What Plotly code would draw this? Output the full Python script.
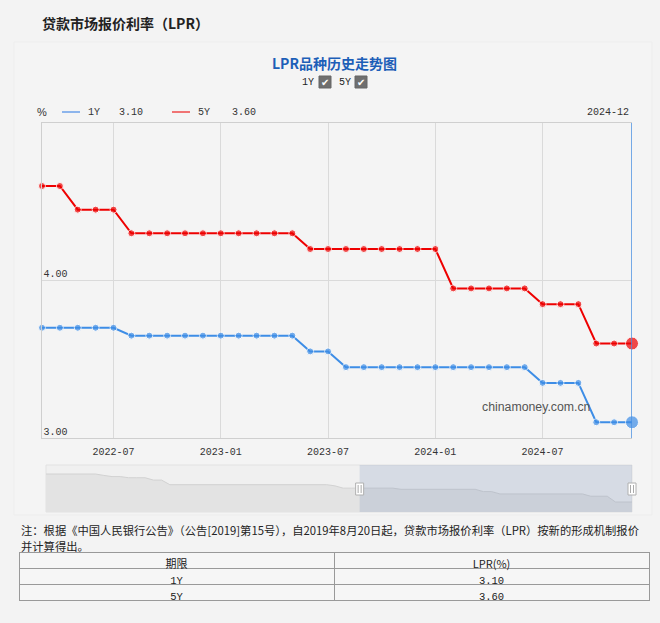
import plotly.graph_objects as go

# ---------------- data ----------------
months = [f"{y}-{m:02d}" for y in (2022, 2023, 2024) for m in range(1, 13)][2:]  # 2022-03 .. 2024-12
one_y = [3.70, 3.70, 3.70, 3.70, 3.70,
         3.65, 3.65, 3.65, 3.65, 3.65, 3.65, 3.65, 3.65, 3.65, 3.65,
         3.55, 3.55,
         3.45, 3.45, 3.45, 3.45, 3.45, 3.45, 3.45, 3.45, 3.45, 3.45, 3.45,
         3.35, 3.35, 3.35,
         3.10, 3.10, 3.10]
five_y = [4.60, 4.60,
          4.45, 4.45, 4.45,
          4.30, 4.30, 4.30, 4.30, 4.30, 4.30, 4.30, 4.30, 4.30, 4.30,
          4.20, 4.20, 4.20, 4.20, 4.20, 4.20, 4.20, 4.20,
          3.95, 3.95, 3.95, 3.95, 3.95,
          3.85, 3.85, 3.85,
          3.60, 3.60, 3.60]
x_ticks = ["2022-07", "2023-01", "2023-07", "2024-01", "2024-07"]
y_ticks = [3, 4]
y_tick_text = ["3.00", "4.00"]

# history shown in the zoom slider (1Y), 2019-01 .. 2022-02
hist_months = [f"{y}-{m:02d}" for y in (2019, 2020, 2021, 2022) for m in range(1, 13)][:38]
hist_1y = [4.31, 4.31, 4.31, 4.31, 4.31, 4.31, 4.31,
           4.25, 4.20, 4.20, 4.15, 4.15, 4.15, 4.05, 4.05,
           3.85, 3.85, 3.85, 3.85, 3.85, 3.85, 3.85, 3.85, 3.85, 3.85,
           3.85, 3.85, 3.85, 3.85, 3.85, 3.85, 3.85, 3.85, 3.85, 3.85,
           3.80, 3.70, 3.70]
full_months = hist_months + months
full_1y = hist_1y + one_y

terms = ["1Y", "5Y"]
latest = [f"{one_y[-1]:.2f}", f"{five_y[-1]:.2f}"]

# ---------------- helpers ----------------
W, H = 660, 623
def px(x): return x / W
def py(y): return 1 - y / H

MONO = "Liberation Mono"
CJK = "Noto Sans CJK SC"
BLUE = "#3d8de6"
RED = "#ee0000"

fig = go.Figure()

n = len(months)
sizes = [7] * (n - 1) + [13]
fig.add_trace(go.Scatter(x=months, y=one_y, mode="lines+markers", name="1Y",
                         line=dict(color=BLUE, width=2),
                         marker=dict(size=sizes, color=BLUE),
                         cliponaxis=False, showlegend=False, hoverinfo="skip"))
fig.add_trace(go.Scatter(x=months, y=five_y, mode="lines+markers", name="5Y",
                         line=dict(color=RED, width=2),
                         marker=dict(size=sizes, color=RED),
                         cliponaxis=False, showlegend=False, hoverinfo="skip"))

# slider shadow
fig.add_trace(go.Scatter(x=full_months, y=full_1y, mode="lines", xaxis="x2", yaxis="y2",
                         line=dict(color="#d2d2d2", width=1), fill="tozeroy",
                         fillcolor="#e3e3e3", showlegend=False, hoverinfo="skip"))

# table
fig.add_trace(go.Table(
    domain=dict(x=[px(19), px(649)], y=[py(602), py(552)]),
    columnwidth=[1, 1],
    header=dict(values=["期限", "LPR(%)"], height=16, align="center",
                fill_color="#f6f6f6", line=dict(color="#999999", width=1),
                font=dict(family=CJK, size=11, color="#222")),
    cells=dict(values=[terms, latest], height=16, align="center",
               fill_color="#f6f6f6", line=dict(color="#999999", width=1),
               font=dict(family=MONO, size=10.5, color="#222"))))

shapes = []
# faint panel
shapes.append(dict(type="rect", xref="paper", yref="paper", x0=px(14), x1=px(652),
                   y0=py(515), y1=py(42), fillcolor="#f4f4f4",
                   line=dict(color="#ededed", width=1), layer="below"))
# slider background
shapes.append(dict(type="rect", xref="paper", yref="paper", x0=px(46), x1=px(632),
                   y0=py(512), y1=py(465), fillcolor="#f0f0f0",
                   line=dict(color="#e2e2e2", width=1), layer="below"))
# selected window in slider
sel0 = full_months.index(months[0])
sel1 = len(full_months) - 1
shapes.append(dict(type="rect", xref="x2", yref="paper", x0=sel0, x1=sel1,
                   y0=py(512), y1=py(465), fillcolor="rgba(110,135,180,0.2)",
                   line=dict(width=0), layer="above"))
for a in (sel0, sel1):
    shapes.append(dict(type="rect", xref="x2", xsizemode="pixel", xanchor=a, x0=-4, x1=4,
                       yref="paper", y0=py(495), y1=py(483), fillcolor="#ffffff",
                       line=dict(color="#b0b0b0", width=1), layer="above"))
    for dx in (-1.5, 1.5):
        shapes.append(dict(type="line", xref="x2", xsizemode="pixel", xanchor=a, x0=dx, x1=dx,
                           yref="paper", y0=py(493), y1=py(485),
                           line=dict(color="#aaaaaa", width=1), layer="above"))
# axis pointer at latest month
shapes.append(dict(type="line", xref="x", x0=n - 1, x1=n - 1, yref="paper",
                   y0=py(438), y1=py(123), line=dict(color="#4a90e2", width=1.5)))
# legend lines
shapes.append(dict(type="line", xref="paper", yref="paper", x0=px(62), x1=px(80),
                   y0=py(112), y1=py(112), line=dict(color="#8db5ec", width=2)))
shapes.append(dict(type="line", xref="paper", yref="paper", x0=px(172), x1=px(190),
                   y0=py(112), y1=py(112), line=dict(color="#f07474", width=2)))
# checkboxes
for cx in (325, 361):
    shapes.append(dict(type="rect", xref="paper", yref="paper", x0=px(cx - 6), x1=px(cx + 6),
                       y0=py(88), y1=py(76), fillcolor="#6f6f6f",
                       line=dict(color="#666", width=1)))

ann = []
def text(x, y, s, size=12, color="#333", family=MONO, xanchor="left", bold=False):
    ann.append(dict(x=px(x), y=py(y), xref="paper", yref="paper", text=(f"<b>{s}</b>" if bold else s),
                    showarrow=False, xanchor=xanchor, yanchor="middle",
                    font=dict(size=size, color=color, family=family)))

text(40, 23, "贷款市场报价利率（LPR）", size=14, color="#222", family=CJK, bold=True)
text(334, 63, "LPR品种历史走势图", size=14, color="#1d5fb8", family=CJK, xanchor="center", bold=True)
text(300, 82, "1Y", size=10, color="#222")
text(337, 82, "5Y", size=10, color="#222")
for cx in (325, 361):
    text(cx, 82, "✔", size=10, color="#ffffff", family="DejaVu Sans", xanchor="center")
text(42, 112, "%", size=11, color="#333", family="Liberation Sans", xanchor="center")
text(86, 112, "1Y", size=10)
text(117, 112, f"{one_y[-1]:.2f}", size=10)
text(196, 112, "5Y", size=10)
text(230, 112, f"{five_y[-1]:.2f}", size=10)
text(631, 112, months[-1], size=10, xanchor="right")
text(480, 407, "chinamoney.com.cn", size=12.3, color="#555", family="Liberation Sans")
text(19, 530, "注：根据《中国人民银行公告》（公告[2019]第15号），自2019年8月20日起，贷款市场报价利率（LPR）按新的形成机制报价",
     size=11.3, color="#222", family=CJK)
text(19, 546, "并计算得出。", size=11.3, color="#222", family=CJK)

# slider axis: extend domain a little past the last month so the right handle is not clipped
n_full = len(full_months)
slot = (632 - 46) / (n_full - 1)
extra = 8

fig.update_layout(
    width=W, height=H, autosize=False,
    margin=dict(l=0, r=0, t=0, b=0, pad=0),
    paper_bgcolor="#f3f3f3", plot_bgcolor="#f4f4f4",
    shapes=shapes, annotations=ann, showlegend=False,
    xaxis=dict(domain=[px(42), px(632)], anchor="y", type="category",
               categoryorder="array", categoryarray=months, range=[0, n - 1],
               tickvals=x_ticks, ticks="outside", ticklen=4, tickcolor="rgba(0,0,0,0)",
               showgrid=True, gridcolor="#dadada", gridwidth=1,
               showline=True, linecolor="#cfcfcf", linewidth=1, mirror=True,
               zeroline=False, tickfont=dict(family=MONO, size=10, color="#333"),
               fixedrange=True),
    yaxis=dict(domain=[py(438), py(123)], anchor="x", range=[3, 5],
               tickvals=y_ticks, ticktext=y_tick_text, ticklabelposition="inside top",
               showgrid=True, gridcolor="#dadada", gridwidth=1,
               showline=True, linecolor="#cfcfcf", linewidth=1,
               zeroline=False, tickfont=dict(family=MONO, size=10, color="#333"),
               fixedrange=True),
    xaxis2=dict(domain=[px(46), px(632 + extra)], anchor="y2", type="category",
                categoryorder="array", categoryarray=full_months,
                range=[0, n_full - 1 + extra / slot],
                visible=False, fixedrange=True),
    yaxis2=dict(domain=[py(512), py(465)], anchor="x2", range=[2.67, 4.70],
                visible=False, fixedrange=True),
)

fig.write_html("out.html")
